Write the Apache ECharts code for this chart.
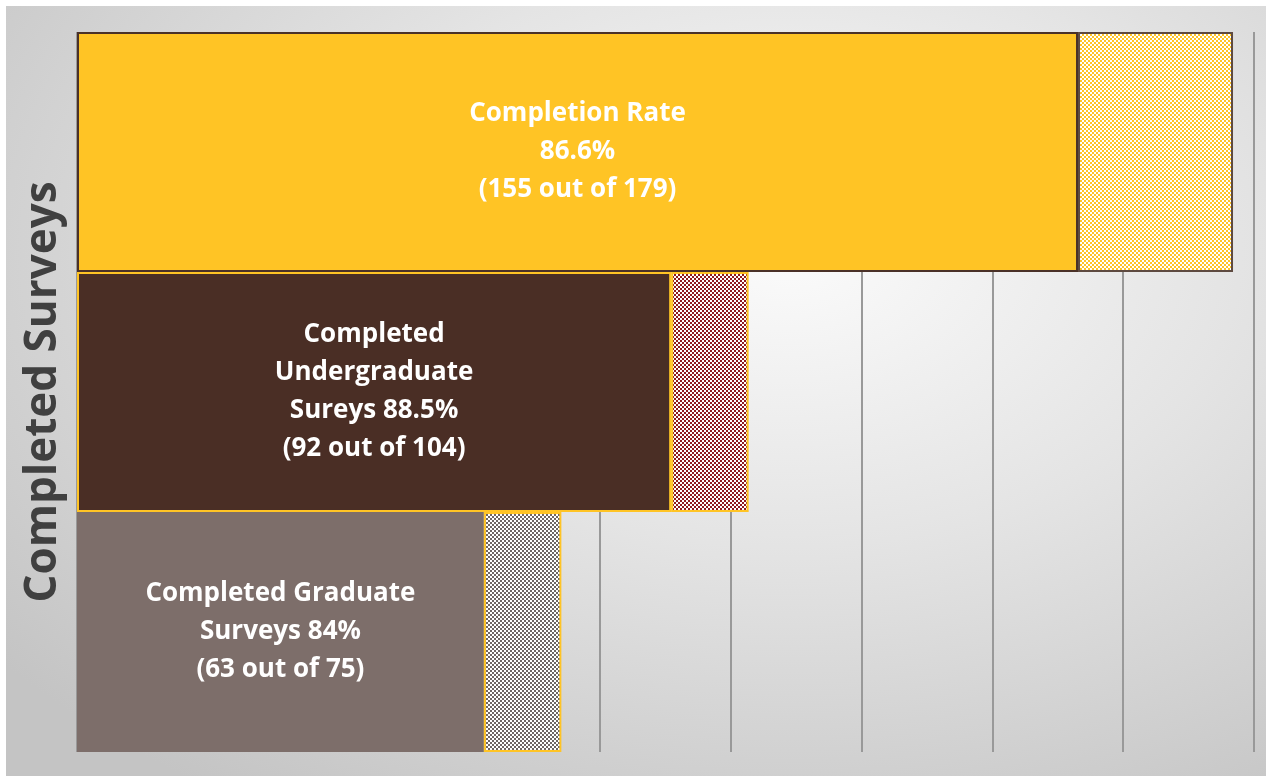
<!DOCTYPE html>
<html lang="en">
<head>
    <meta charset="UTF-8">
    <title>Completed Surveys</title>
    <style>
        html, body {
            margin: 0;
            padding: 0;
            background: #fff;
        }

        #chartmain {
            position: absolute;
            left: 6px;
            top: 6px;
            width: 1260px;
            height: 770px;
            /*灰色渐变背景*/
            background: radial-gradient(ellipse 80% 85% at 62% 32%, #fbfbfb 0%, #e4e4e4 45%, #c4c4c4 100%);
        }
    </style>
</head>
<body>
    <div id="chartmain"></div>
    <script src="https://cdn.jsdelivr.net/npm/echarts@6/dist/echarts.min.js"></script>
    <script type="text/javascript">
        // bottom to top
        var categories = ['Graduate', 'Undergraduate', 'All'];
        var completed = [63, 92, 155];
        var notCompleted = [12, 12, 24];
        var labels = [
            'Completed Graduate\nSurveys 84%\n(63 out of 75)',
            'Completed\nUndergraduate\nSureys 88.5%\n(92 out of 104)',
            'Completion Rate\n86.6%\n(155 out of 179)'
        ];
        var axisMax = 182.25;
        var axisStep = 20.25;

        // 棋盘格填充
        var checker = (color) => {
            let c = document.createElement('canvas');
            c.width = 4;
            c.height = 4;
            let ctx = c.getContext('2d');
            ctx.fillStyle = '#ffffff';
            ctx.fillRect(0, 0, 4, 4);
            ctx.fillStyle = color;
            ctx.fillRect(0, 0, 2, 2);
            ctx.fillRect(2, 2, 2, 2);
            return { image: c, repeat: 'repeat' };
        }

        var mainStyle = [
            { color: '#7d6e6a', borderColor: '#7d6e6a', borderWidth: 0 },
            { color: '#4a2e25', borderColor: '#ffc425', borderWidth: 2 },
            { color: '#ffc425', borderColor: '#4a3128', borderWidth: 2 }
        ];
        var restStyle = [
            { color: checker('#6e6664'), borderColor: '#ffc425', borderWidth: 2 },
            { color: checker('#8f1a1e'), borderColor: '#ffc425', borderWidth: 2 },
            { color: checker('#ffc425'), borderColor: '#5e4a40', borderWidth: 2 }
        ];

        var mychart = echarts.init(document.getElementById('chartmain'));
        var option = {
            animation: false,
            grid: {
                left: 71,
                top: 26,
                width: 1177,
                height: 720,
                outerBoundsMode: 'none',
                containLabel: false
            },
            xAxis: {
                type: 'value',
                min: 0,
                max: axisMax,
                interval: axisStep,
                axisLabel: { show: false },
                axisTick: { show: false },
                axisLine: { show: false },
                splitLine: {
                    show: true,
                    lineStyle: { color: '#999999', width: 2 }
                }
            },
            yAxis: {
                type: 'category',
                data: categories,
                axisLabel: { show: false },
                axisTick: { show: false },
                axisLine: { show: false },
                name: 'Completed Surveys',
                nameLocation: 'middle',
                nameRotate: 90,
                nameGap: 12,
                nameTextStyle: {
                    fontFamily: 'Open Sans',
                    fontSize: 44,
                    fontWeight: 'bold',
                    color: '#404040'
                }
            },
            series: [{
                    name: 'Completed',
                    type: 'bar',
                    stack: 'total',
                    barCategoryGap: '0%',
                    data: completed.map((v, i) => ({
                        value: v,
                        itemStyle: mainStyle[i],
                        label: { formatter: labels[i] }
                    })),
                    label: {
                        show: true,
                        position: 'inside',
                        color: '#ffffff',
                        fontFamily: 'Open Sans',
                        fontWeight: 'bold',
                        fontSize: 26,
                        lineHeight: 38,
                        align: 'center'
                    }
                },
                {
                    name: 'Not completed',
                    type: 'bar',
                    stack: 'total',
                    barCategoryGap: '0%',
                    data: notCompleted.map((v, i) => ({
                        value: v,
                        itemStyle: restStyle[i]
                    }))
                }
            ]
        };
        mychart.setOption(option, true);
    </script>
</body>
</html>
